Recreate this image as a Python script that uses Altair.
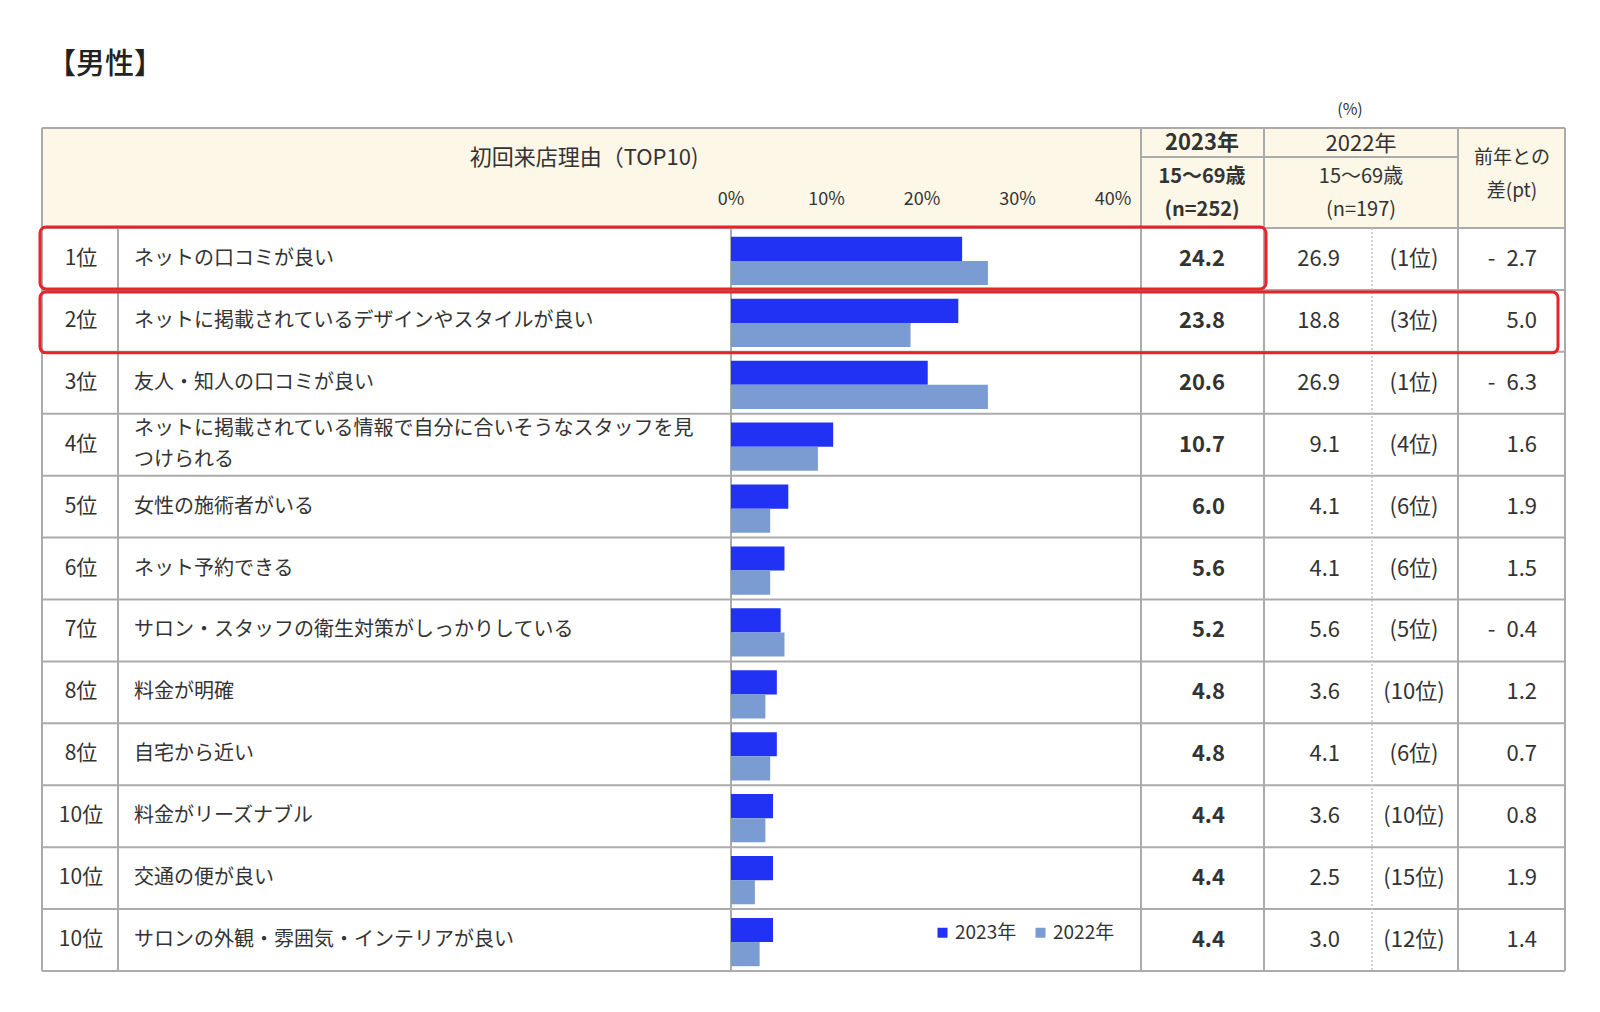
import altair as alt
import pandas as pd

# ---------------- data ----------------
title_text = "【男性】"
rank_labels = ["1位", "2位", "3位", "4位", "5位", "6位", "7位", "8位", "8位", "10位", "10位", "10位"]
reasons = [
    "ネットの口コミが良い",
    "ネットに掲載されているデザインやスタイルが良い",
    "友人・知人の口コミが良い",
    "ネットに掲載されている情報で自分に合いそうなスタッフを見\nつけられる",
    "女性の施術者がいる",
    "ネット予約できる",
    "サロン・スタッフの衛生対策がしっかりしている",
    "料金が明確",
    "自宅から近い",
    "料金がリーズナブル",
    "交通の便が良い",
    "サロンの外観・雰囲気・インテリアが良い",
]
values_2023 = [24.2, 23.8, 20.6, 10.7, 6.0, 5.6, 5.2, 4.8, 4.8, 4.4, 4.4, 4.4]
values_2022 = [26.9, 18.8, 26.9, 9.1, 4.1, 4.1, 5.6, 3.6, 4.1, 3.6, 2.5, 3.0]
ranks_2022 = [1, 3, 1, 4, 6, 6, 5, 10, 6, 10, 15, 12]
diff_pt = [-2.7, 5.0, -6.3, 1.6, 1.9, 1.5, -0.4, 1.2, 0.7, 0.8, 1.9, 1.4]
years = ["2023年", "2022年"]
axis_ticks = [0, 10, 20, 30, 40]
highlight_rows = [0, 1]

# ---------------- layout / style ----------------
FONT = "Noto Sans CJK JP"
W, H = 1584, 990
M = 8


def p(v):
    return v - M


L, R = 42, 1565
T, HB, B = 128, 228, 971
SUB = 157
C_RANK, C_BAR, C_23, C_22, C_22R, C_DIFF = 118, 731, 1141, 1264, 1372, 1458
BAR_END = 1113
n = len(reasons)
STEP = (B - HB) / n
LINE_H = 31

GRID = "#ABABAB"
CREAM = "#FCF7E6"
RED = "#E8232B"
DARK = "#2132F5"
LIGHT = "#7B9BD3"
INK = "#333333"

ix_scale = alt.Scale(domain=[0, W], range=[0, W], nice=False, zero=False)
iy_scale = alt.Scale(domain=[0, H], range=[0, H], nice=False, zero=False)


def IX(f):
    return alt.X(f, type="quantitative", scale=ix_scale, axis=None)


def IY(f):
    return alt.Y(f, type="quantitative", scale=iy_scale, axis=None)


bar_x_scale = alt.Scale(domain=[0, 40], range=[p(C_BAR), p(BAR_END)], nice=False, zero=True)

# header background
bg = alt.Chart(pd.DataFrame({"x": [p(L)], "x2": [p(R)], "y": [p(T)], "y2": [p(HB)]})).mark_rect(
    color=CREAM
).encode(x=IX("x"), x2="x2", y=IY("y"), y2="y2")

# grid lines
segs = []


def seg(x1, y1, x2, y2):
    segs.append(dict(x=p(x1), y=p(y1), x2=p(x2), y2=p(y2)))


for yv in [T, HB] + [HB + i * STEP for i in range(1, n)] + [B]:
    seg(L, yv, R, yv)
seg(C_23, SUB, C_DIFF, SUB)
for xv in [L, R, C_23, C_22, C_DIFF]:
    seg(xv, T, xv, B)
for xv in [C_RANK, C_BAR]:
    seg(xv, HB, xv, B)

grid = alt.Chart(pd.DataFrame(segs)).mark_rule(color=GRID, strokeWidth=2).encode(
    x=IX("x"), y=IY("y"), x2="x2", y2="y2"
)

dashed = alt.Chart(
    pd.DataFrame([dict(x=p(C_22R), y=p(HB), x2=p(C_22R), y2=p(B))])
).mark_rule(color="#C4C4C4", strokeWidth=1.5, strokeDash=[2, 2]).encode(
    x=IX("x"), y=IY("y"), x2="x2", y2="y2"
)

# bars
bar_rows = []
for i in range(n):
    bar_rows.append({"row": i, "year": years[0], "value": values_2023[i]})
    bar_rows.append({"row": i, "year": years[1], "value": values_2022[i]})
bar_df = pd.DataFrame(bar_rows)

bars = alt.Chart(bar_df).mark_bar().encode(
    x=alt.X("value:Q", scale=bar_x_scale, axis=None),
    y=alt.Y(
        "row:O",
        scale=alt.Scale(domain=list(range(n)), range=[p(HB) + 2, p(B) + 2], paddingInner=0.22, paddingOuter=0.11),
        axis=None,
    ),
    yOffset=alt.YOffset("year:N", scale=alt.Scale(domain=years, paddingInner=0, paddingOuter=0)),
    color=alt.Color(
        "year:N",
        scale=alt.Scale(domain=years, range=[DARK, LIGHT]),
        legend=alt.Legend(
            title=None,
            orient="none",
            legendX=p(933),
            legendY=p(923),
            direction="horizontal",
            symbolType="square",
            symbolSize=100,
            symbolStrokeWidth=0,
            labelFont=FONT,
            labelFontSize=19,
            labelColor=INK,
            columnPadding=14,
            labelOffset=3,
            padding=0,
        ),
    ),
)

# axis tick labels
tick_df = pd.DataFrame({"pct": axis_ticks, "label": [f"{t}%" for t in axis_ticks]})
ticks = alt.Chart(tick_df).mark_text(font=FONT, fontSize=18, color=INK, baseline="middle").encode(
    x=alt.X("pct:Q", scale=bar_x_scale, axis=None), y=alt.value(p(200)), text="label:N"
)

# body text
body_df = pd.DataFrame(
    {
        "row": list(range(n)),
        "rank": rank_labels,
        "reason": reasons,
        "lines": [r.count("\n") + 1 for r in reasons],
        "v23": [f"{v:.1f}" for v in values_2023],
        "v22": [f"{v:.1f}" for v in values_2022],
        "r22": [f"({r}位)" for r in ranks_2022],
        "diff": [f"-\u2002{abs(d):.1f}" if d < 0 else f"{d:.1f}" for d in diff_pt],
    }
)
row_y = alt.Y(
    "row:O",
    scale=alt.Scale(type="point", domain=list(range(n)), range=[p(HB), p(B)], padding=0.5),
    axis=None,
)


def body_text(field, xpos, align, size, weight="normal", dy=0, flt=None):
    base = alt.Chart(body_df)
    if flt is not None:
        base = base.transform_filter(flt)
    return base.mark_text(
        font=FONT,
        fontSize=size,
        fontWeight=weight,
        align=align,
        baseline="middle",
        color=INK,
        lineBreak="\n",
        lineHeight=LINE_H,
        dy=dy,
    ).encode(x=alt.value(p(xpos)), y=row_y, text=f"{field}:N")


t_rank = body_text("rank", 81, "center", 21)
t_reason1 = body_text("reason", 134, "left", 20, flt="datum.lines == 1")
t_reason2 = body_text("reason", 134, "left", 20, dy=-LINE_H / 2, flt="datum.lines == 2")
t_v23 = body_text("v23", 1225, "right", 22, "bold")
t_v22 = body_text("v22", 1340, "right", 22)
t_r22 = body_text("r22", 1414, "center", 22)
t_diff = body_text("diff", 1537, "right", 22)

# header texts
hdr_norm = pd.DataFrame(
    [
        dict(x=p(1350), y=p(110), text="(%)", size=16),
        dict(x=p(584), y=p(158), text="初回来店理由（TOP10)", size=22),
        dict(x=p(1361), y=p(144), text="2022年", size=22),
        dict(x=p(1361), y=p(177), text="15〜69歳", size=20),
        dict(x=p(1361), y=p(210), text="(n=197)", size=20),
        dict(x=p(1512), y=p(158), text="前年との", size=19),
        dict(x=p(1512), y=p(191), text="差(pt)", size=19),
    ]
)
hdr_bold = pd.DataFrame(
    [
        dict(x=p(1202), y=p(143), text="2023年", size=22),
        dict(x=p(1202), y=p(177), text="15〜69歳", size=20),
        dict(x=p(1202), y=p(210), text="(n=252)", size=20),
    ]
)
h1 = alt.Chart(hdr_norm).mark_text(font=FONT, color=INK, baseline="middle", align="center").encode(
    x=IX("x"), y=IY("y"), text="text:N", size=alt.Size("size:Q", scale=None, legend=None)
)
h2 = alt.Chart(hdr_bold).mark_text(
    font=FONT, color=INK, baseline="middle", align="center", fontWeight="bold"
).encode(x=IX("x"), y=IY("y"), text="text:N", size=alt.Size("size:Q", scale=None, legend=None))
title = alt.Chart(pd.DataFrame([dict(x=p(47), y=p(65), text=title_text)])).mark_text(
    font=FONT, color="#222222", baseline="middle", align="left", fontSize=29, fontWeight=500
).encode(x=IX("x"), y=IY("y"), text="text:N")

# red highlight boxes
box_rows = []
for i in highlight_rows:
    right = C_22 + 2 if i == 0 else R - 7
    top = HB + i * STEP + (-1 if i == 0 else 2)
    bot = HB + (i + 1) * STEP + (-1 if i == 0 else 1)
    box_rows.append(dict(x=p(40), x2=p(right), y=p(top), y2=p(bot)))
boxes = alt.Chart(pd.DataFrame(box_rows)).mark_rect(
    fill="transparent", stroke=RED, strokeWidth=3, cornerRadius=6
).encode(x=IX("x"), x2="x2", y=IY("y"), y2="y2")

chart = (
    alt.layer(
        bg, grid, dashed, bars, ticks, t_rank, t_reason1, t_reason2, t_v23, t_v22, t_r22, t_diff, h1, h2, title, boxes
    )
    .resolve_scale(x="independent", y="independent")
    .properties(width=W, height=H, padding=0, background="white", autosize=alt.AutoSizeParams(type="none"))
    .configure_view(stroke=None)
)

chart.save("out.html", embed_options={"renderer": "svg", "actions": False})
